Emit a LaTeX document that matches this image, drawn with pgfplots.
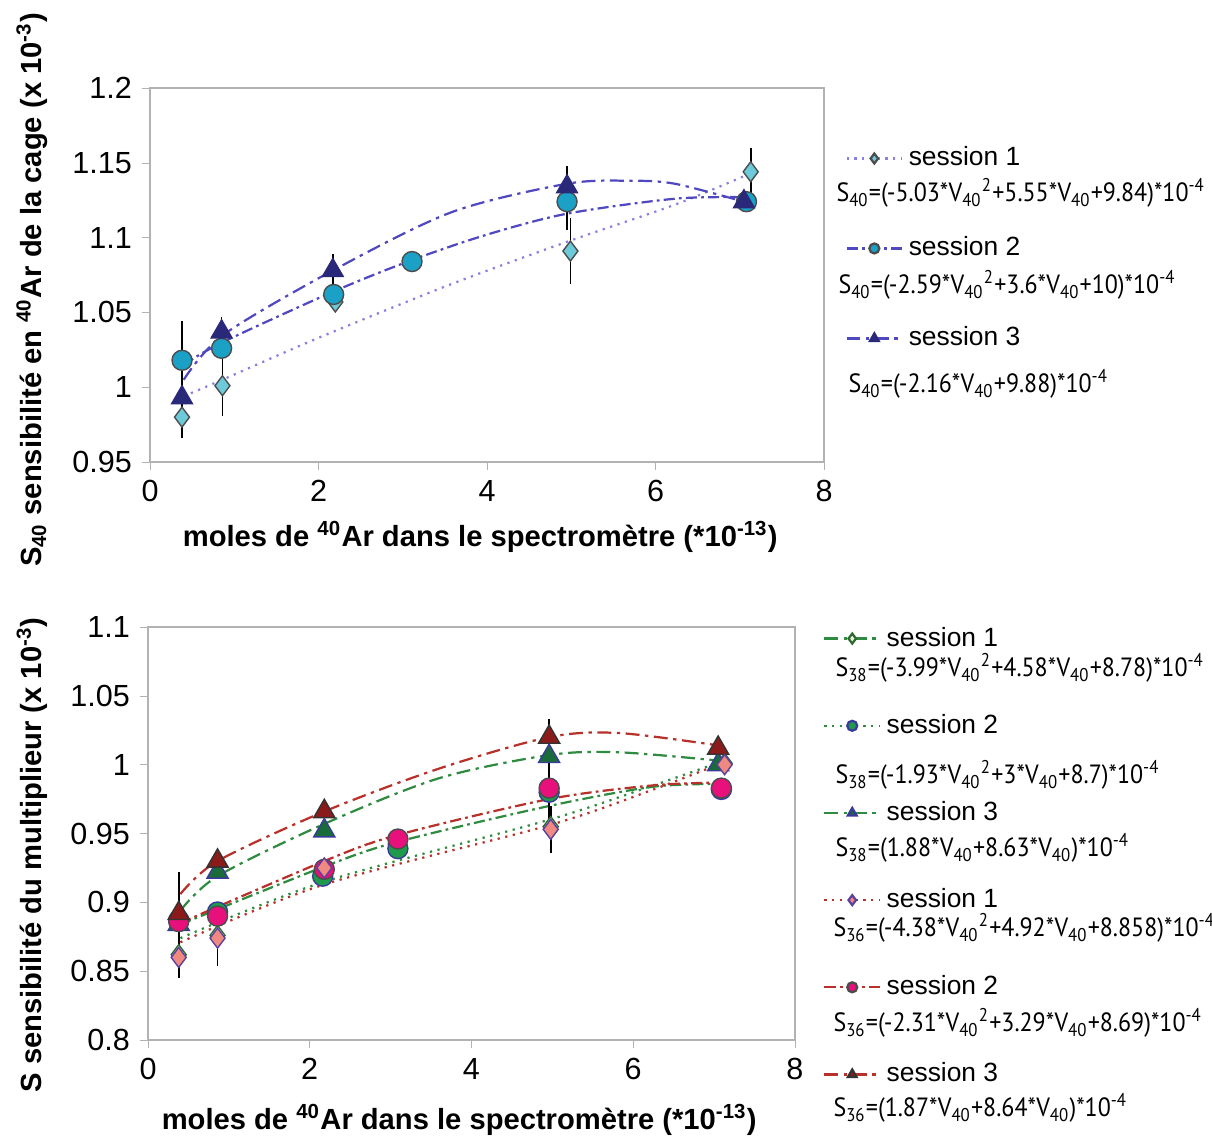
\documentclass[border=0pt]{standalone}
\usepackage{graphicx}
\usepackage{pgfplots}
\pgfplotsset{compat=1.18}
\usepackage{fontspec}
\setmainfont{Liberation Sans}
\newfontfamily\eqfont{PT Sans}
\definecolor{trendT}{HTML}{5048C0}
\definecolor{trendTL}{HTML}{8A80E0}
\definecolor{cyanL}{HTML}{6CCAD9}
\definecolor{tealB}{HTML}{1BA0C6}
\definecolor{navyT}{HTML}{2A2878}
\definecolor{gLine}{HTML}{2E8B40}
\definecolor{rLine}{HTML}{B8302A}
\definecolor{gDiaF}{HTML}{E6F0DC}
\definecolor{gDiaD}{HTML}{2E6B30}
\definecolor{gCirF}{HTML}{1E9B4A}
\definecolor{gTriF}{HTML}{1A6B3A}
\definecolor{bOut}{HTML}{3A3A9A}
\definecolor{rDiaF}{HTML}{F08A80}
\definecolor{rDiaD}{HTML}{5A40A0}
\definecolor{rCirF}{HTML}{E8107A}
\definecolor{rTriF}{HTML}{8B1A1A}
\newcommand{\eq}[1]{\scalebox{0.91}[1]{\eqfont\fontsize{9.5}{11}\selectfont #1}}
\pgfplotsset{
  common/.style={
    scale only axis,
    axis line style={draw=gray!60},
    tick style={draw=gray!60, major tick length=3pt},
    tick align=outside,
    xtick pos=bottom, ytick pos=left,
    xmin=0, xmax=8, xtick={0,2,4,6,8}, xticklabels={0,2,4,6,8},
    ticklabel style={font=\fontsize{11}{13}\selectfont},
    /pgf/number format/assume math mode=true,
    label style={font=\bfseries\fontsize{10.5}{12.5}\selectfont},
    legend style={draw=none, fill=none, font=\fontsize{9.5}{11}\selectfont,
      cells={anchor=west}, inner sep=0pt},
    legend image code/.code={\draw[mark repeat=2,mark phase=2,#1] plot coordinates {(0pt,0pt)(10pt,0pt)(20pt,0pt)};},
    legend image post style={mark size=1.8pt},
  },
  eb/.style={error bars/y dir=both, error bars/y explicit, error bars/error mark=none,
    error bars/error bar style={black, line width=0.6pt}},
  dA/.style={dotted, line width=0.8pt},
  dB/.style={dash pattern=on 4pt off 1.5pt on 1pt off 1.5pt, line width=0.8pt},
  dC/.style={dash pattern=on 5pt off 2pt on 1.2pt off 2pt, line width=0.8pt},
}
\begin{document}
\begin{tikzpicture}
\useasboundingbox (0,0) rectangle (436.32pt,-409.68pt);
% ---------------- top axis
\begin{axis}[common,
  at={(54pt,-166.32pt)}, anchor=south west,
  width=242.64pt, height=134.64pt,
  ymin=0.95, ymax=1.2, ytick={0.95,1,1.05,1.1,1.15,1.2},
  yticklabels={0.95,1,1.05,1.1,1.15,1.2},
  xlabel={moles de \textsuperscript{40}Ar dans le spectromètre (*10\textsuperscript{-13})},
  ylabel={S\textsubscript{40} sensibilité en \textsuperscript{40}Ar de la cage (x 10\textsuperscript{-3})},
  xlabel style={at={(axis description cs:0.49,-0.2)}, anchor=center},
  ylabel style={at={(axis description cs:-0.175,0.46)}, anchor=center},
  legend style={at={(1.031,0.859)}, anchor=north west, row sep=20pt},
]
\addlegendimage{trendTL, dA, mark=diamond*, mark options={solid, fill=cyanL, draw=black!70}}
\addlegendentry{session 1}
\addlegendimage{trendT, dB, mark=*, mark options={solid, fill=tealB, draw=black!70}}
\addlegendentry{session 2}
\addlegendimage{trendT, dC, mark=triangle*, mark options={solid, fill=navyT, draw=navyT}}
\addlegendentry{session 3}
% trend lines
\addplot[trendTL, dA, smooth, forget plot] coordinates {(0.40,0.994)(0.86,1.005)(2.0,1.033)(3.58,1.069)(4.99,1.098)(6.23,1.122)(7.13,1.143)};
\addplot[trendT, dB, smooth, forget plot] coordinates {(0.40,1.015)(0.86,1.030)(2.18,1.064)(3.11,1.085)(4.0,1.102)(4.95,1.116)(6.23,1.126)(7.08,1.127)};
\addplot[trendT, dC, smooth, forget plot] coordinates {(0.40,1.005)(0.87,1.035)(2.17,1.078)(3.58,1.117)(4.95,1.136)(5.70,1.138)(6.23,1.136)(7.05,1.124)};
% data
\addplot[eb, only marks, mark=diamond*, mark size=3.6pt, mark options={fill=cyanL, draw=black!70, line width=0.5pt}, forget plot]
 coordinates {(0.38,0.980) +- (0,0.014) (0.86,1.001) +- (0,0.020) (2.20,1.057) +- (0,0) (4.99,1.091) +- (0,0.022) (7.13,1.144) +- (0,0.016)};
\addplot[eb, only marks, mark=*, mark size=3.6pt, mark options={fill=tealB, draw=black!70, line width=0.5pt}, forget plot]
 coordinates {(0.38,1.018) +- (0,0.026) (0.85,1.026) +- (0,0) (2.18,1.062) +- (0,0) (3.11,1.084) +- (0,0) (4.95,1.124) +- (0,0.019) (7.08,1.124) +- (0,0)};
\addplot[eb, only marks, mark=triangle*, mark size=4.4pt, mark options={fill=navyT, draw=navyT}, forget plot]
 coordinates {(0.38,0.993) +- (0,0) (0.85,1.037) +- (0,0.010) (2.17,1.078) +- (0,0.011) (4.95,1.134) +- (0,0.014) (7.05,1.124) +- (0,0)};
\end{axis}
% ---------------- bottom axis
\begin{axis}[common,
  at={(53.28pt,-374.4pt)}, anchor=south west,
  width=232.92pt, height=148.68pt,
  ymin=0.8, ymax=1.1, ytick={0.8,0.85,0.9,0.95,1,1.05,1.1},
  yticklabels={0.8,0.85,0.9,0.95,1,1.05,1.1},
  xlabel={moles de \textsuperscript{40}Ar dans le spectromètre (*10\textsuperscript{-13})},
  ylabel={S sensibilité du multiplieur (x 10\textsuperscript{-3})},
  xlabel style={at={(axis description cs:0.481,-0.194)}, anchor=center},
  ylabel style={at={(axis description cs:-0.179,0.448)}, anchor=center},
  legend style={at={(1.043,1.015)}, anchor=north west, row sep=19pt},
]
\addlegendimage{gLine, dC, mark=diamond*, mark options={solid, fill=gDiaF, draw=gDiaD}}
\addlegendentry{session 1}
\addlegendimage{gLine, dA, mark=*, mark options={solid, fill=gCirF, draw=bOut}}
\addlegendentry{session 2}
\addlegendimage{gLine, dC, mark=triangle*, mark options={solid, fill=gTriF, draw=bOut}}
\addlegendentry{session 3}
\addlegendimage{rLine, dA, mark=diamond*, mark options={solid, fill=rDiaF, draw=rDiaD}}
\addlegendentry{session 1}
\addlegendimage{rLine, dB, mark=*, mark options={solid, fill=rCirF, draw=black!70}}
\addlegendentry{session 2}
\addlegendimage{rLine, dC, mark=triangle*, mark options={solid, fill=rTriF, draw=black!80}}
\addlegendentry{session 3}
% trend lines
\addplot[gLine, dA, smooth, forget plot] coordinates {(0.40,0.874)(2.18,0.915)(4.96,0.960)(6.25,0.985)(7.13,1.003)};
\addplot[rLine, dA, smooth, forget plot] coordinates {(0.40,0.871)(2.18,0.913)(4.96,0.956)(6.25,0.982)(7.13,1.002)};
\addplot[gLine, dB, smooth, forget plot] coordinates {(0.40,0.884)(2.18,0.926)(3.09,0.944)(4.96,0.970)(6.25,0.984)(7.09,0.986)};
\addplot[rLine, dB, smooth, forget plot] coordinates {(0.40,0.885)(2.18,0.930)(3.09,0.949)(4.96,0.975)(6.25,0.985)(7.09,0.987)};
\addplot[gLine, dC, smooth, forget plot] coordinates {(0.40,0.894)(0.86,0.919)(2.18,0.957)(3.59,0.990)(4.96,1.007)(5.82,1.009)(7.05,1.003)};
\addplot[rLine, dC, smooth, forget plot] coordinates {(0.40,0.906)(0.86,0.930)(2.18,0.966)(3.59,0.997)(4.96,1.020)(5.82,1.023)(7.05,1.014)};
% data S38
\addplot[only marks, mark=diamond*, mark size=3.6pt, mark options={fill=gDiaF, draw=gDiaD, line width=0.5pt}, forget plot]
 coordinates {(0.38,0.862)(0.86,0.876)(2.18,0.923)(4.98,0.955)(7.13,1.001)};
\addplot[only marks, mark=*, mark size=3.6pt, mark options={fill=gCirF, draw=bOut, line width=0.5pt}, forget plot]
 coordinates {(0.38,0.887)(0.86,0.893)(2.16,0.919)(3.09,0.939)(4.96,0.980)(7.09,0.982)};
\addplot[only marks, mark=triangle*, mark size=4.4pt, mark options={fill=gTriF, draw=bOut, line width=0.5pt}, forget plot]
 coordinates {(0.38,0.884)(0.86,0.922)(2.18,0.952)(4.96,1.006)(7.05,1.000)};
% data S36
\addplot[eb, only marks, mark=*, mark size=3.6pt, mark options={fill=rCirF, draw=black!70, line width=0.5pt}, forget plot]
 coordinates {(0.38,0.886) +- (0,0) (0.86,0.890) +- (0,0) (2.18,0.924) +- (0,0) (3.09,0.946) +- (0,0) (4.96,0.983) +- (0,0.025) (7.09,0.983) +- (0,0)};
\addplot[eb, only marks, mark=triangle*, mark size=4.4pt, mark options={fill=rTriF, draw=black!80, line width=0.5pt}, forget plot]
 coordinates {(0.38,0.892) +- (0,0.030) (0.86,0.930) +- (0,0) (2.18,0.966) +- (0,0) (4.96,1.020) +- (0,0.013) (7.05,1.012) +- (0,0.008)};
\addplot[eb, only marks, mark=diamond*, mark size=3.6pt, mark options={fill=rDiaF, draw=rDiaD, line width=0.5pt}, forget plot]
 coordinates {(0.38,0.860) +- (0,0.015) (0.86,0.874) +- (0,0.020) (2.18,0.925) +- (0,0) (4.98,0.953) +- (0,0.017) (7.13,1.000) +- (0,0)};
\end{axis}
% equations
\node[anchor=west, inner sep=0pt] at (300.96pt,-69.48pt) {\eq{S\textsubscript{40}=(-5.03*V\textsubscript{40}\textsuperscript{2}+5.55*V\textsubscript{40}+9.84)*10\textsuperscript{-4}}};
\node[anchor=west, inner sep=0pt] at (301.68pt,-102.6pt) {\eq{S\textsubscript{40}=(-2.59*V\textsubscript{40}\textsuperscript{2}+3.6*V\textsubscript{40}+10)*10\textsuperscript{-4}}};
\node[anchor=west, inner sep=0pt] at (305.28pt,-138.24pt) {\eq{S\textsubscript{40}=(-2.16*V\textsubscript{40}+9.88)*10\textsuperscript{-4}}};
\node[anchor=west, inner sep=0pt] at (300.6pt,-240.48pt) {\eq{S\textsubscript{38}=(-3.99*V\textsubscript{40}\textsuperscript{2}+4.58*V\textsubscript{40}+8.78)*10\textsuperscript{-4}}};
\node[anchor=west, inner sep=0pt] at (300.6pt,-279pt) {\eq{S\textsubscript{38}=(-1.93*V\textsubscript{40}\textsuperscript{2}+3*V\textsubscript{40}+8.7)*10\textsuperscript{-4}}};
\node[anchor=west, inner sep=0pt] at (300.6pt,-305.28pt) {\eq{S\textsubscript{38}=(1.88*V\textsubscript{40}+8.63*V\textsubscript{40})*10\textsuperscript{-4}}};
\node[anchor=west, inner sep=0pt] at (299.88pt,-334.08pt) {\eq{S\textsubscript{36}=(-4.38*V\textsubscript{40}\textsuperscript{2}+4.92*V\textsubscript{40}+8.858)*10\textsuperscript{-4}}};
\node[anchor=west, inner sep=0pt] at (299.88pt,-368.28pt) {\eq{S\textsubscript{36}=(-2.31*V\textsubscript{40}\textsuperscript{2}+3.29*V\textsubscript{40}+8.69)*10\textsuperscript{-4}}};
\node[anchor=west, inner sep=0pt] at (299.88pt,-398.88pt) {\eq{S\textsubscript{36}=(1.87*V\textsubscript{40}+8.64*V\textsubscript{40})*10\textsuperscript{-4}}};
\end{tikzpicture}
\end{document}
